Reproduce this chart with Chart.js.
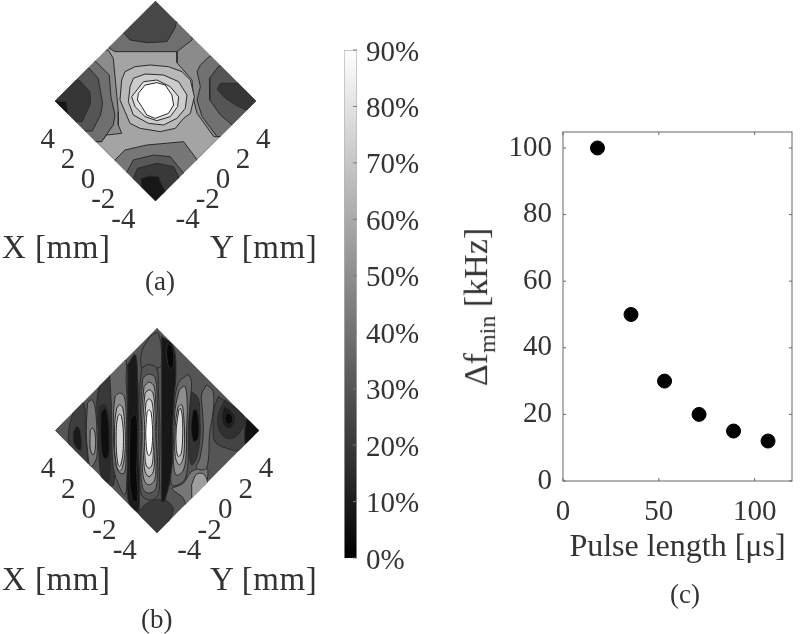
<!DOCTYPE html>
<html lang="en">

<head>
    <meta charset="UTF-8">
    <title>Contour maps and minimum frequency spacing</title>
    <script src="https://cdn.jsdelivr.net/npm/chart.js@4/dist/chart.umd.js"></script>
    <style>
        html, body { margin: 0; padding: 0; background: #fff; }
        #page { position: relative; width: 800px; height: 634px; overflow: hidden; filter: blur(0.7px); }
        canvas { position: absolute; }
        .label { position: absolute; font-family: "Liberation Serif", serif; color: #333; white-space: nowrap; line-height: 1; }
        .axis { font-size: 33px; letter-spacing: 0.5px; }
        .cap { font-size: 27px; }
    </style>
</head>

<body>
    <div id="page">
        <canvas id="mapA" style="left:0;top:0;width:330px;height:270px"></canvas>
        <canvas id="mapB" style="left:0;top:310px;width:330px;height:270px"></canvas>
        <canvas id="bar" style="left:330px;top:30px;width:100px;height:570px"></canvas>
        <canvas id="scatter" style="left:480px;top:120px;width:320px;height:447px"></canvas>

        <div class="label axis" style="left:2px;top:231px">X [mm]</div>
        <div class="label axis" style="left:210px;top:231px">Y [mm]</div>
        <div class="label cap" style="left:145px;top:268px">(a)</div>
        <div class="label axis" style="left:2px;top:563px">X [mm]</div>
        <div class="label axis" style="left:210px;top:563px">Y [mm]</div>
        <div class="label cap" style="left:141px;top:606px">(b)</div>
        <div class="label cap" style="left:670px;top:581px">(c)</div>
        <div class="label" style="left:479px;top:307px;font-size:34px;transform:translate(-50%,-50%) rotate(-90deg)">&Delta;f<sub style="font-size:24px">min</sub> [kHz]</div>
    </div>

    <script>
        // panel (c)
        const pulseLength = [18, 35.5, 53, 71, 89, 107];
        const deltaFmin = [100, 50, 30, 20, 15, 12];

        // colour bar
        const barMax = 90;
        const barStep = 10;

        // diamond axis ticks, mm
        const mmTicks = [4, 2, 0, -2, -4];
        const mmRange = 5;

        // contours, in the plane of the diamond:
        // [across, up], corners of the diamond at +-halfDiag
        const halfDiagA = 300;
        const halfDiagB = 307;

        const aRight0 = [[64,148],[64,115],[109,63],[114,3],[124,-37],[174,-107],[320,-107],[320,320],[64,320]];
        const aTop1 = [[-138,158],[-121,148],[-26,148],[64,148],[109,183],[120,320],[-150,320]];
        const aTop2 = [[-94,203],[-76,183],[-26,175],[34,178],[49,203],[59,221],[80,320],[-100,320]];
        const aLeft0 = [[-141,153],[-126,128],[-119,53],[-111,-32],[-111,-72],[-101,-97],[-146,-102],[-161,-122],[-320,-122],[-320,153]];
        const aLeft1 = [[-181,121],[-138,78],[-133,13],[-121,-42],[-126,-72],[-161,-122],[-320,-122],[-320,121]];
        const aLeft2 = [[-198,98],[-171,68],[-158,-7],[-164,-42],[-189,-90],[-320,-90],[-320,98]];
        const aLeft3 = [[-228,63],[-196,28],[-194,-7],[-219,-62],[-320,-62],[-320,63]];
        const aLeft4 = [[-300,0],[-266,-2],[-261,-42],[-320,-42],[-320,0]];
        const aRight1 = [[162,135],[134,108],[124,88],[134,43],[124,3],[139,-47],[184,-107],[320,-107],[320,135]];
        const aRight2 = [[189,105],[161,68],[162,3],[194,-42],[229,-72],[320,-72],[320,105]];
        const aRight3 = [[232,53],[194,53],[184,35],[209,8],[244,-15],[272,-27],[320,-27],[320,53]];
        const aBot1 = [[-121,-177],[-91,-147],[-26,-132],[84,-122],[124,-176],[124,-320],[-121,-320]];
        const aBot2 = [[-86,-214],[-66,-177],[-6,-162],[44,-167],[84,-216],[84,-320],[-86,-320]];
        const aBot3 = [[-66,-232],[-54,-202],[4,-187],[54,-197],[69,-227],[69,-320],[-66,-320]];
        const aBot4 = [[-41,-260],[-43,-232],[-16,-225],[9,-227],[19,-252],[29,-270],[29,-320],[-41,-320]];
        const aCen1 = [[-101,63],[-91,88],[-61,103],[-16,108],[39,103],[79,88],[104,63],[116,13],[104,-37],[84,-52],[59,-82],[14,-92],[-46,-82],[-76,-67],[-91,-32],[-106,3]];
        const aCen2 = [[-76,43],[-66,68],[-31,81],[24,78],[69,58],[94,18],[89,-22],[64,-52],[24,-72],[-21,-67],[-66,-42],[-81,-2]];
        const aCen3 = [[-54,35],[-36,58],[4,63],[44,43],[69,13],[66,-17],[44,-47],[4,-59],[-31,-47],[-61,-17],[-71,13]];
        const aCen4 = [[-51,23],[-31,48],[4,55],[29,48],[49,18],[54,-12],[39,-37],[-1,-52],[-26,-42],[-41,-17],[-54,3]];

        const bLeftBand = [[-251,62],[-221,82],[-216,-3],[-211,-103],[-261,-53],[-266,-3]];
        const bLeftCore = [[-251,-3],[-241,12],[-231,-3],[-229,-58],[-241,-53],[-251,-33]];
        const bLight1 = [[-209,82],[-196,92],[-186,67],[-181,-3],[-181,-78],[-196,-108],[-203,-103],[-209,-63],[-213,-3]];
        const bLight2 = [[-201,2],[-193,7],[-186,-13],[-186,-58],[-193,-73],[-201,-53]];
        const bDark0 = [[-171,147],[-141,167],[-136,77],[-136,-23],[-131,-163],[-166,-143],[-176,-3],[-181,87]];
        const bDark1 = [[-173,72],[-156,77],[-143,37],[-141,-23],[-141,-103],[-146,-153],[-166,-143],[-173,-83],[-176,-3]];
        const bDark2 = [[-169,52],[-156,67],[-146,27],[-144,-23],[-146,-78],[-161,-83],[-169,-33]];
        const bBright1 = [[-143,167],[-96,212],[-93,147],[-89,67],[-89,-33],[-89,-123],[-96,-193],[-111,-173],[-131,-113],[-136,-23],[-138,87]];
        const bBright2 = [[-126,102],[-113,112],[-99,102],[-93,57],[-91,-23],[-93,-83],[-99,-128],[-116,-123],[-126,-83],[-131,-23],[-131,57]];
        const bBright3 = [[-121,67],[-113,77],[-103,67],[-97,17],[-95,-23],[-97,-73],[-105,-113],[-113,-121],[-121,-108],[-127,-63],[-128,-3],[-126,37]];
        const bBright4 = [[-118,42],[-113,49],[-107,42],[-102,7],[-101,-33],[-103,-73],[-109,-103],[-113,-108],[-118,-98],[-122,-63],[-123,-23],[-122,17]];
        const bBottom = [[-59,-243],[-21,-213],[24,-208],[49,-240],[0,-310]];
        const bMidDark1 = [[-88,197],[-66,227],[-59,177],[-56,17],[-54,-83],[-53,-223],[-59,-243],[-86,-213],[-89,-83],[-88,67]];
        const bMidDark2 = [[-81,37],[-63,47],[-59,-33],[-61,-123],[-59,-213],[-76,-203],[-83,-113]];
        const bTopWedge = [[-21,282],[4,292],[14,197],[-1,187],[-26,197],[-46,187],[-46,237]];
        const bMidDark3 = [[14,282],[49,252],[57,167],[51,97],[51,-33],[47,-113],[24,-208],[14,-213],[14,-113],[14,-3],[14,117],[14,217]];
        const bMidDark4 = [[31,262],[47,247],[49,192],[37,187],[29,227]];
        const bCen1 = [[-46,187],[-26,197],[-1,187],[4,117],[9,-3],[7,-123],[4,-193],[-21,-208],[-46,-193],[-53,-123],[-56,-3],[-53,117]];
        const bCen2 = [[-43,157],[-24,169],[-5,157],[1,77],[4,-3],[1,-103],[-3,-173],[-24,-188],[-43,-173],[-49,-103],[-51,-3],[-49,77]];
        const bCen3 = [[-39,132],[-24,145],[-9,132],[-3,67],[-1,-3],[-3,-93],[-7,-148],[-24,-163],[-39,-148],[-45,-93],[-47,-3],[-45,67]];
        const bCen4 = [[-36,112],[-24,122],[-12,112],[-6,57],[-5,-3],[-7,-73],[-11,-123],[-24,-138],[-36,-123],[-41,-73],[-43,-3],[-41,57]];
        const bCen5 = [[-33,85],[-24,95],[-15,85],[-10,37],[-9,-3],[-11,-63],[-15,-103],[-24,-113],[-33,-103],[-37,-63],[-38,-3],[-37,37]];
        const bCen6 = [[-30,55],[-24,62],[-18,55],[-14,17],[-13,-13],[-15,-48],[-19,-68],[-24,-75],[-29,-68],[-32,-48],[-34,-13],[-33,17]];
        const bRight1 = [[94,169],[104,147],[99,77],[94,-3],[94,-83],[91,-118],[79,-153],[44,-163],[47,-83],[47,-3],[51,67],[64,142]];
        const bRight2 = [[67,122],[84,132],[91,77],[89,-3],[87,-83],[77,-123],[57,-133],[49,-83],[51,-3],[55,67]];
        const bRight3 = [[64,72],[75,77],[81,32],[83,-23],[79,-83],[67,-103],[55,-78],[54,-13],[57,37]];
        const bRight4 = [[66,62],[71,67],[77,32],[77,-23],[73,-68],[64,-78],[58,-53],[58,7]];
        const bDark3 = [[104,117],[124,97],[129,37],[129,-23],[119,-83],[104,-103],[97,-63],[97,17]];
        const bDark4 = [[109,62],[119,62],[126,27],[124,-23],[111,-33],[103,-3],[104,32]];
        const bLow1 = [[44,-173],[79,-158],[104,-123],[149,-113],[149,-153],[99,-253],[79,-203],[54,-183]];
        const bLow2 = [[104,-163],[119,-131],[141,-131],[151,-163],[109,-213]];
        const bGray = [[149,137],[169,117],[169,57],[159,-3],[149,-113],[119,-113],[129,-83],[139,-13],[137,57],[134,107]];
        const bBlob1 = [[184,102],[244,62],[307,0],[249,-58],[209,-53],[174,-33],[169,17],[171,62]];
        const bBlob2 = [[204,92],[254,52],[264,27],[239,-18],[209,-23],[187,2],[184,47]];
        const bBlob3 = [[204,72],[224,57],[234,32],[219,7],[201,17],[196,47]];
        const bBlob4 = [[209,55],[224,47],[227,27],[214,19],[204,32]];
        const bCorner = [[269,37],[307,0],[269,-43],[264,-3]];

        // contour and its level in percent, lowest layer first
        const layersA = [
            [aRight0, 49], [aTop1, 39], [aTop2, 25], [aLeft0, 49], [aLeft1, 39], [aLeft2, 30], [aLeft3, 19], [aLeft4, 8],
            [aRight1, 40], [aRight2, 30], [aRight3, 19],
            [aBot1, 42], [aBot2, 31], [aBot3, 20], [aBot4, 8],
            [aCen1, 65], [aCen2, 72], [aCen3, 80], [aCen4, 90]
        ];
        const layersB = [
            [bLeftBand, 22], [bLeftCore, 9], [bLight1, 42], [bLight2, 55], [bDark0, 20], [bDark1, 15], [bDark2, 5],
            [bBright1, 36], [bBright2, 50], [bBright3, 64], [bBright4, 76],
            [bBottom, 20], [bMidDark1, 9], [bMidDark2, 3], [bTopWedge, 30], [bMidDark3, 8], [bMidDark4, 2],
            [bCen1, 30], [bCen2, 42], [bCen3, 55], [bCen4, 65], [bCen5, 76], [bCen6, 90],
            [bRight1, 36], [bRight2, 50], [bRight3, 64], [bRight4, 77], [bDark3, 18], [bDark4, 4],
            [bLow1, 42], [bLow2, 56], [bGray, 38],
            [bBlob1, 24], [bBlob2, 17], [bBlob3, 9], [bBlob4, 3], [bCorner, 6]
        ];

        const serif = '"Liberation Serif", serif';
        const textColor = '#333';
        Chart.defaults.font.family = serif;
        Chart.defaults.animation = false;

        function grey(level) {
            const g = Math.round(level / barMax * 255);
            return `rgb(${g},${g},${g})`;
        }

        function diamondChart(id, half, baseLevel, layers, tension, padding) {
            const base = [[-half, 0], [0, half], [half, 0], [0, -half]];
            const all = [[base, baseLevel], ...layers];
            const datasets = all.map(([shape, level], i) => ({
                data: [...shape, shape[0]].map(([x, y]) => ({ x, y })),
                showLine: true,
                fill: 'shape',
                tension: tension,
                backgroundColor: grey(level),
                borderColor: '#2b2b2b',
                borderWidth: 1,
                pointRadius: 0,
                order: all.length - i
            }));

            const clipToDiamond = {
                id: 'clipToDiamond',
                beforeDatasetsDraw(chart) {
                    const { ctx, scales: { x, y } } = chart;
                    ctx.save();
                    ctx.beginPath();
                    base.forEach(([u, v], i) => {
                        const px = x.getPixelForValue(u);
                        const py = y.getPixelForValue(v);
                        if (i === 0) ctx.moveTo(px, py); else ctx.lineTo(px, py);
                    });
                    ctx.closePath();
                    ctx.clip();
                },
                afterDatasetsDraw(chart) {
                    chart.ctx.restore();
                }
            };

            const mmLabels = {
                id: 'mmLabels',
                afterDraw(chart) {
                    const { ctx, scales: { x, y } } = chart;
                    ctx.save();
                    ctx.font = `29px ${serif}`;
                    ctx.fillStyle = textColor;
                    ctx.textBaseline = 'middle';
                    mmTicks.forEach((t) => {
                        const f = (t + mmRange) / (2 * mmRange);
                        const py = y.getPixelForValue(-half + half * f) + 29;
                        ctx.textAlign = 'right';
                        ctx.fillText(String(t), x.getPixelForValue(-half * f) - 10, py);
                        ctx.textAlign = 'left';
                        ctx.fillText(String(t), x.getPixelForValue(half * f) + 10, py);
                    });
                    ctx.restore();
                }
            };

            return new Chart(document.getElementById(id), {
                type: 'scatter',
                data: { datasets },
                plugins: [clipToDiamond, mmLabels],
                options: {
                    responsive: false,
                    layout: { padding },
                    plugins: { legend: { display: false }, tooltip: { enabled: false } },
                    scales: {
                        x: { display: false, min: -half, max: half },
                        y: { display: false, min: -half, max: half }
                    }
                }
            });
        }

        function sizeCanvas(id, w, h) {
            const c = document.getElementById(id);
            c.width = w;
            c.height = h;
        }

        sizeCanvas('mapA', 330, 270);
        sizeCanvas('mapB', 330, 270);
        sizeCanvas('bar', 100, 570);
        sizeCanvas('scatter', 320, 447);

        diamondChart('mapA', halfDiagA, 58, layersA, 0, { left: 55, top: 1, right: 74, bottom: 69 });
        diamondChart('mapB', halfDiagB, 30, layersB, 0.35, { left: 55, top: 18, right: 71, bottom: 47 });

        // small marks on the inner side of the colour bar
        const barTicks = {
            id: 'barTicks',
            afterDraw(chart) {
                const { ctx, chartArea: a, scales: { y } } = chart;
                ctx.save();
                ctx.strokeStyle = '#777';
                ctx.beginPath();
                y.ticks.forEach((t) => {
                    const py = y.getPixelForValue(t.value);
                    ctx.moveTo(a.right, py);
                    ctx.lineTo(a.right - 4, py);
                });
                ctx.stroke();
                ctx.restore();
            }
        };

        new Chart(document.getElementById('bar'), {
            type: 'bar',
            data: {
                labels: ['level'],
                datasets: [{
                    data: [barMax],
                    barPercentage: 1,
                    categoryPercentage: 1,
                    borderColor: '#b5b5b5',
                    borderWidth: 1,
                    backgroundColor(context) {
                        const { ctx, chartArea } = context.chart;
                        if (!chartArea) return '#888';
                        const g = ctx.createLinearGradient(0, chartArea.bottom, 0, chartArea.top);
                        g.addColorStop(0, '#000');
                        g.addColorStop(1, '#fff');
                        return g;
                    }
                }]
            },
            plugins: [barTicks],
            options: {
                responsive: false,
                layout: { padding: { left: 14, top: 20, bottom: 42 } },
                plugins: { legend: { display: false }, tooltip: { enabled: false } },
                scales: {
                    x: { display: false },
                    y: {
                        position: 'right',
                        min: 0,
                        max: barMax,
                        afterFit(scale) { scale.width = 73; scale.paddingTop = 0; scale.paddingBottom = 0; },
                        grid: { display: false, drawTicks: false },
                        border: { display: false },
                        ticks: {
                            stepSize: barStep,
                            padding: 9,
                            labelOffset: 3,
                            color: textColor,
                            font: { size: 29 },
                            callback: (v) => v + '%'
                        }
                    }
                }
            }
        });

        // ticks of panel (c) point inwards on all four sides
        const innerTicks = {
            id: 'innerTicks',
            afterDraw(chart) {
                const { ctx, chartArea: a, scales: { x, y } } = chart;
                ctx.save();
                ctx.strokeStyle = '#666';
                ctx.lineWidth = 1;
                ctx.strokeRect(a.left, a.top, a.right - a.left, a.bottom - a.top);
                ctx.beginPath();
                x.ticks.forEach((t) => {
                    const px = x.getPixelForValue(t.value);
                    ctx.moveTo(px, a.bottom); ctx.lineTo(px, a.bottom - 3);
                    ctx.moveTo(px, a.top); ctx.lineTo(px, a.top + 3);
                });
                y.ticks.forEach((t) => {
                    const py = y.getPixelForValue(t.value);
                    ctx.moveTo(a.left, py); ctx.lineTo(a.left + 3, py);
                    ctx.moveTo(a.right, py); ctx.lineTo(a.right - 3, py);
                });
                ctx.stroke();
                ctx.restore();
            }
        };

        new Chart(document.getElementById('scatter'), {
            type: 'scatter',
            data: {
                datasets: [{
                    data: pulseLength.map((x, i) => ({ x, y: deltaFmin[i] })),
                    backgroundColor: '#000',
                    borderColor: '#000',
                    pointRadius: 7
                }]
            },
            plugins: [innerTicks],
            options: {
                responsive: false,
                layout: { padding: { top: 12, right: 3 } },
                plugins: { legend: { display: false }, tooltip: { enabled: false } },
                scales: {
                    x: {
                        min: 0,
                        max: 119.5,
                        afterFit(scale) { scale.height = 86; scale.paddingLeft = 0; scale.paddingRight = 0; },
                        grid: { display: false, drawTicks: false },
                        border: { display: false },
                        title: {
                            display: true,
                            text: 'Pulse length [μs]',
                            color: textColor,
                            font: { size: 32 },
                            padding: { top: 4, bottom: 0 }
                        },
                        ticks: {
                            stepSize: 50,
                            includeBounds: false,
                            maxRotation: 0,
                            padding: 14,
                            color: textColor,
                            font: { size: 29 }
                        }
                    },
                    y: {
                        min: 0,
                        max: 104.8,
                        afterFit(scale) { scale.width = 83; scale.paddingTop = 0; scale.paddingBottom = 0; },
                        grid: { display: false, drawTicks: false },
                        border: { display: false },
                        ticks: {
                            stepSize: 20,
                            includeBounds: false,
                            padding: 11,
                            color: textColor,
                            font: { size: 29 }
                        }
                    }
                }
            }
        });
    </script>
</body>

</html>
